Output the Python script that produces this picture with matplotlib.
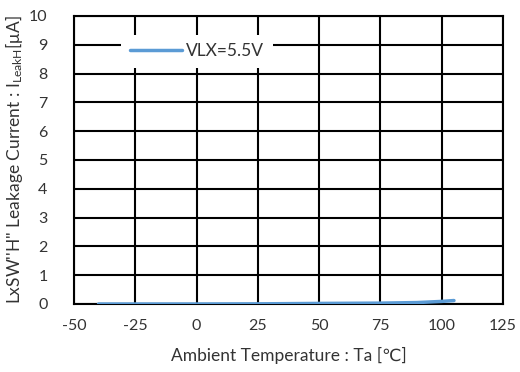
import matplotlib.pyplot as plt

plt.rcParams['font.family'] = ['Lato', 'DejaVu Sans']
plt.rcParams['mathtext.fontset'] = 'custom'
plt.rcParams['mathtext.rm'] = 'Lato'
plt.rcParams['mathtext.it'] = 'Lato'
plt.rcParams['axes.unicode_minus'] = False

temps = [-40, -25, 0, 25, 50, 75, 90, 100, 105]
leak = [0.0, 0.0, 0.0, 0.005, 0.02, 0.03, 0.05, 0.09, 0.12]
series_label = 'VLX=5.5V'
x_ticks = [-50, -25, 0, 25, 50, 75, 100, 125]
y_ticks = list(range(0, 11))

fig = plt.figure(figsize=(5.2, 3.72), dpi=100)
ax = fig.add_axes([0.1423, 0.1828, 0.825, 0.7742])

ax.plot(temps, leak, color='#5b9bd5', linewidth=2.5, label=series_label,
        solid_capstyle='round', zorder=3)

ax.set_xlim(-50, 125)
ax.set_ylim(0, 10)
ax.set_xticks(x_ticks)
ax.set_yticks(y_ticks)
ax.grid(True, color='black', linewidth=1.5)
ax.set_axisbelow(True)
for s in ax.spines.values():
    s.set_color('black')
    s.set_linewidth(1.5)
ax.tick_params(axis='y', length=0, labelsize=11.5, pad=19, colors='#333333')
ax.tick_params(axis='x', length=0, labelsize=11.5, pad=11, colors='#333333')

ax.set_xlabel('Ambient Temperature : Ta [℃]', fontsize=12.5, labelpad=10,
              color='#333333')
ax.set_ylabel(r"LxSW''H'' Leakage Current : I$_{\mathrm{LeakH}}$[μA]",
              fontsize=12.5, labelpad=3, color='#333333')

leg = ax.legend(loc='upper left', bbox_to_anchor=(0.09, 0.965), frameon=True,
                fancybox=False, framealpha=1, edgecolor='white',
                fontsize=12.5, handlelength=3.0, borderpad=0.5,
                handletextpad=0.25)
leg.get_frame().set_linewidth(0)
for t in leg.get_texts():
    t.set_color('#333333')

fig.savefig('out.png', dpi=100)
